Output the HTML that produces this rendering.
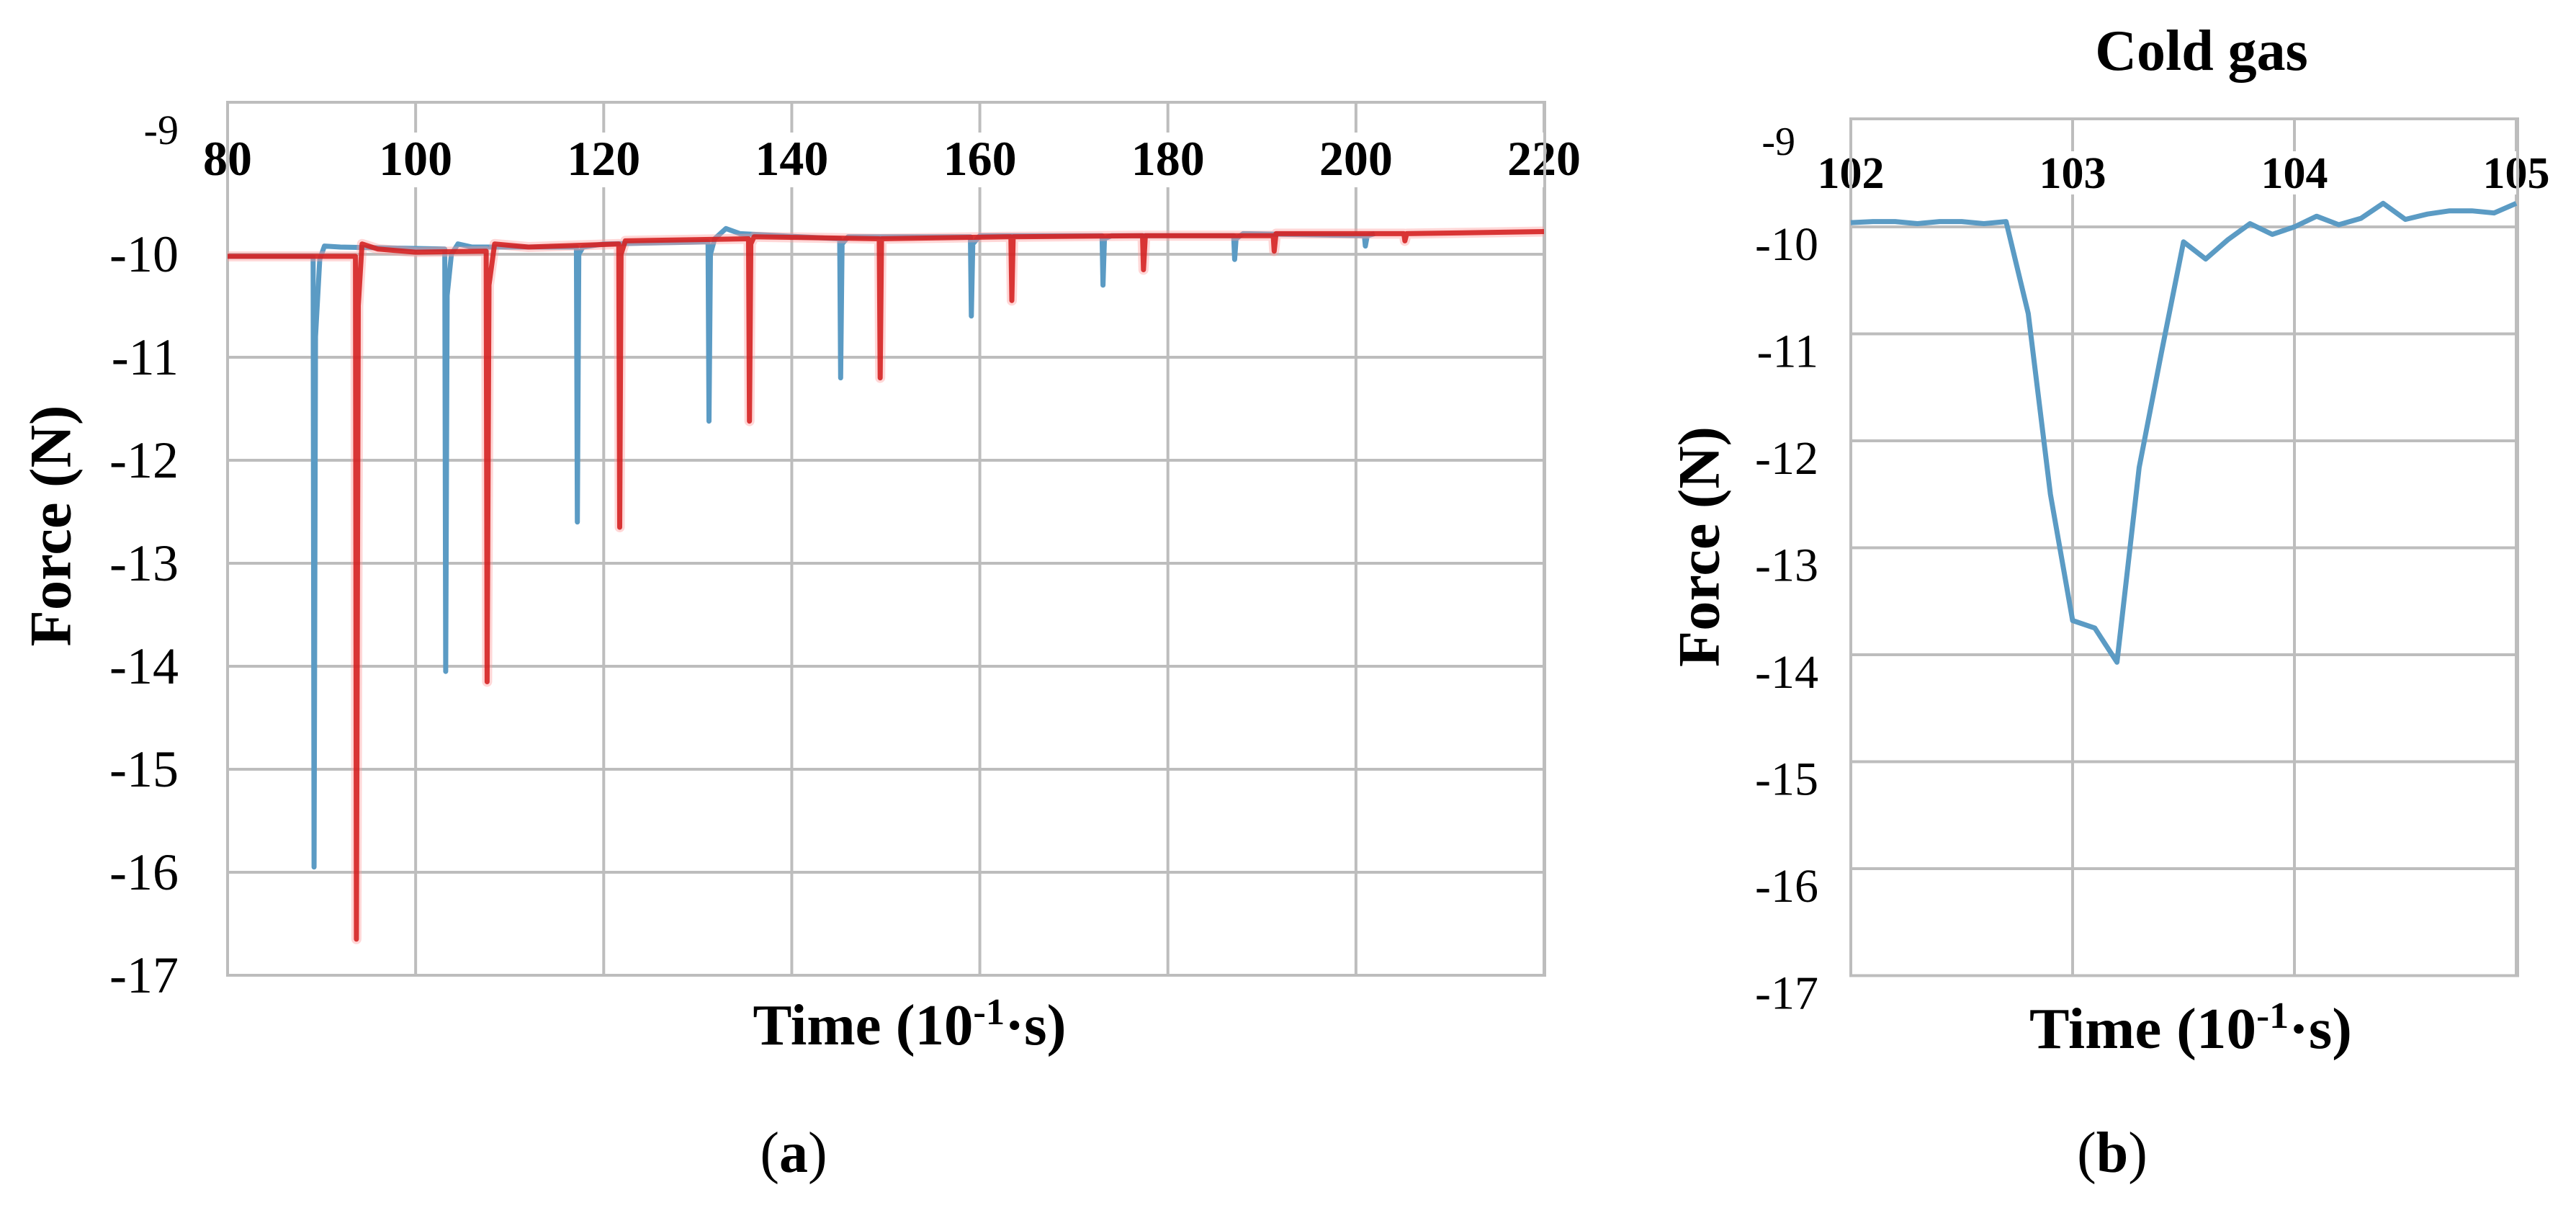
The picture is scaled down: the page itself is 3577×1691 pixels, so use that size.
<!DOCTYPE html>
<html><head><meta charset="utf-8"><style>
html,body{margin:0;padding:0;background:#fff;}
svg{display:block;font-family:"Liberation Serif",serif;}
</style></head><body>
<svg id="fig" width="3577" height="1691" viewBox="0 0 3577 1691" xmlns="http://www.w3.org/2000/svg">
<rect width="3577" height="1691" fill="#fff"/>
<g id="chartA"></g>
<g id="chartB"></g>
<text x="70" y="730" transform="rotate(-90 70 730)" text-anchor="middle" dominant-baseline="central" font-size="82" font-weight="bold" textLength="335" lengthAdjust="spacingAndGlyphs">Force (N)</text>
<text x="1263" y="1450" text-anchor="middle" font-size="80" font-weight="bold" textLength="435" lengthAdjust="spacingAndGlyphs">Time (10<tspan dy="-28" font-size="52">-1</tspan><tspan dy="28">·s)</tspan></text>
<text x="1102" y="1627" text-anchor="middle" font-size="80">(<tspan font-weight="bold">a</tspan>)</text>
<text x="2359" y="759" transform="rotate(-90 2359 759)" text-anchor="middle" dominant-baseline="central" font-size="82" font-weight="bold" textLength="334" lengthAdjust="spacingAndGlyphs">Force (N)</text>
<text x="3042" y="1455" text-anchor="middle" font-size="80" font-weight="bold" textLength="448" lengthAdjust="spacingAndGlyphs">Time (10<tspan dy="-28" font-size="52">-1</tspan><tspan dy="28">·s)</tspan></text>
<text x="2933" y="1627" text-anchor="middle" font-size="80">(<tspan font-weight="bold">b</tspan>)</text>
<text x="3057" y="97" text-anchor="middle" font-size="80" font-weight="bold">Cold gas</text>
</svg>
<script>
// ---- Chart (a) data ----
const aXTicks = [80,100,120,140,160,180,200,220];
const aYTicks = [-9,-10,-11,-12,-13,-14,-15,-16,-17];
const blueT = [80,89.1,89.2,89.35,89.8,90.3,92,103.1,103.2,103.35,103.8,104.5,106,117.1,117.2,117.35,117.8,120,131.1,131.2,131.35,131.8,133,134.5,145.1,145.2,145.35,146,159.0,159.1,159.25,160,173.0,173.1,173.25,174,187.0,187.1,187.25,188,200.9,201.0,201.2,202];
const blueV = [-10.02,-10.02,-15.95,-10.8,-10.05,-9.92,-9.93,-9.95,-14.05,-10.4,-10.0,-9.9,-9.93,-9.93,-12.6,-10.0,-9.93,-9.9,-9.88,-11.62,-10.0,-9.85,-9.75,-9.8,-9.85,-11.2,-9.9,-9.83,-9.83,-10.6,-9.9,-9.82,-9.82,-10.3,-9.85,-9.82,-9.82,-10.05,-9.85,-9.8,-9.82,-9.92,-9.82,-9.8];
const redT = [80,93.6,93.7,93.9,94.3,96,100,107.5,107.6,107.8,108.4,112,121.6,121.7,121.85,122.3,135.4,135.5,135.65,136,149.3,149.4,149.55,163.3,163.4,163.55,177.3,177.4,177.6,191.2,191.3,191.5,205.1,205.2,205.4,220];
const redV = [-10.02,-10.02,-16.65,-10.5,-9.9,-9.95,-9.98,-9.97,-14.15,-10.3,-9.9,-9.93,-9.9,-12.65,-10.0,-9.87,-9.85,-11.62,-9.9,-9.83,-9.85,-11.2,-9.85,-9.83,-10.45,-9.83,-9.82,-10.15,-9.82,-9.82,-9.97,-9.8,-9.8,-9.87,-9.8,-9.78];
// ---- Chart (b) data ----
const bXTicks = [102,103,104,105];
const bYTicks = [-9,-10,-11,-12,-13,-14,-15,-16,-17];
const bT = [102.0,102.1,102.2,102.3,102.4,102.5,102.6,102.7,102.8,102.9,103.0,103.1,103.2,103.3,103.4,103.5,103.6,103.7,103.8,103.9,104.0,104.1,104.2,104.3,104.4,104.5,104.6,104.7,104.8,104.9,105.0];
const bV = [-9.96,-9.95,-9.95,-9.97,-9.95,-9.95,-9.97,-9.95,-10.81,-12.5,-13.68,-13.75,-14.07,-12.25,-11.18,-10.14,-10.3,-10.12,-9.97,-10.07,-10.0,-9.9,-9.98,-9.92,-9.78,-9.93,-9.88,-9.85,-9.85,-9.87,-9.78];

const NS = "http://www.w3.org/2000/svg";
function mk(parent, tag, attrs){
  const e = document.createElementNS(NS, tag);
  for (const k in attrs) e.setAttribute(k, attrs[k]);
  parent.appendChild(e);
  return e;
}
// chart a axes
const A = document.getElementById('chartA');
const ax = t => 316 + (t - 80) * (2144 - 316) / 140;
const ay = v => 353 + (-10 - v) * 143;
const aTop = 142, aBot = ay(-17);
aYTicks.forEach(v => {
  if (v !== -9) {
    const g = mk(A, 'line', {x1:316, x2:2145, y1:ay(v), y2:ay(v), stroke:'#bdbdbd', 'stroke-width':4});
    
    
  }
  const t = mk(A, 'text', {x:248, y:(v===-9?200:ay(v)+24), 'text-anchor':'end', 'font-size':(v===-9?58:72)});
  t.textContent = String(v);
  
  
});
aXTicks.forEach(x => {
  const g1 = mk(A, 'line', {x1:ax(x), x2:ax(x), y1:aTop, y2:184, stroke:'#bdbdbd', 'stroke-width':4});
  
  
  const g2 = mk(A, 'line', {x1:ax(x), x2:ax(x), y1:260, y2:aBot, stroke:'#bdbdbd', 'stroke-width':4});
  
  
  const t = mk(A, 'text', {x:ax(x), y:243, 'text-anchor':'middle', 'font-size':68, 'font-weight':'bold'});
  t.textContent = String(x);
  
  
});
const fa = mk(A, 'rect', {x:316, y:aTop, width:2145-316, height:aBot-aTop, fill:'none', stroke:'#bdbdbd', 'stroke-width':4});


const pts = (T, V, fx, fy) => T.map((t, i) => fx(t).toFixed(1) + ',' + fy(V[i]).toFixed(1)).join(' ');
const bl = mk(A, 'polyline', {points:pts(blueT, blueV, ax, ay), fill:'none', stroke:'#5b9bc4', 'stroke-width':7, 'stroke-linejoin':'round'});


const rh = mk(A, 'polyline', {points:pts(redT, redV, ax, ay), fill:'none', stroke:'#ff9a9a', 'stroke-width':14, 'stroke-opacity':0.4, 'stroke-linejoin':'round'});


const rl = mk(A, 'polyline', {points:pts(redT, redV, ax, ay), fill:'none', stroke:'#d41f1f', 'stroke-width':7, 'stroke-opacity':0.88, 'stroke-linejoin':'round'});



// chart b
const B = document.getElementById('chartB');
const bx = t => 2570 + (t - 102) * (3494 - 2570) / 3;
const by = v => 315 + (-10 - v) * 148.5;
const bTop = 165, bBot = by(-17);
bYTicks.forEach(v => {
  if (v !== -9) {
    const g = mk(B, 'line', {x1:2570, x2:3496, y1:by(v), y2:by(v), stroke:'#bdbdbd', 'stroke-width':4});
    
    
  }
  const t = mk(B, 'text', {x:(v===-9?2493:2525), y:(v===-9?215:by(v)+46), 'text-anchor':'end', 'font-size':(v===-9?56:66)});
  t.textContent = String(v);
  
  
});
bXTicks.forEach(x => {
  const g1 = mk(B, 'line', {x1:bx(x), x2:bx(x), y1:bTop, y2:210, stroke:'#bdbdbd', 'stroke-width':4});
  
  
  const g2 = mk(B, 'line', {x1:bx(x), x2:bx(x), y1:270, y2:bBot, stroke:'#bdbdbd', 'stroke-width':4});
  
  
  const t = mk(B, 'text', {x:bx(x), y:261, 'text-anchor':'middle', 'font-size':62, 'font-weight':'bold'});
  t.textContent = String(x);
  
  
});
const fb = mk(B, 'rect', {x:2570, y:bTop, width:3496-2570, height:bBot-bTop, fill:'none', stroke:'#bdbdbd', 'stroke-width':4});


const cl = mk(B, 'polyline', {points:pts(bT, bV, bx, by), fill:'none', stroke:'#5b9bc4', 'stroke-width':7, 'stroke-linejoin':'round'});


</script>
</body></html>
